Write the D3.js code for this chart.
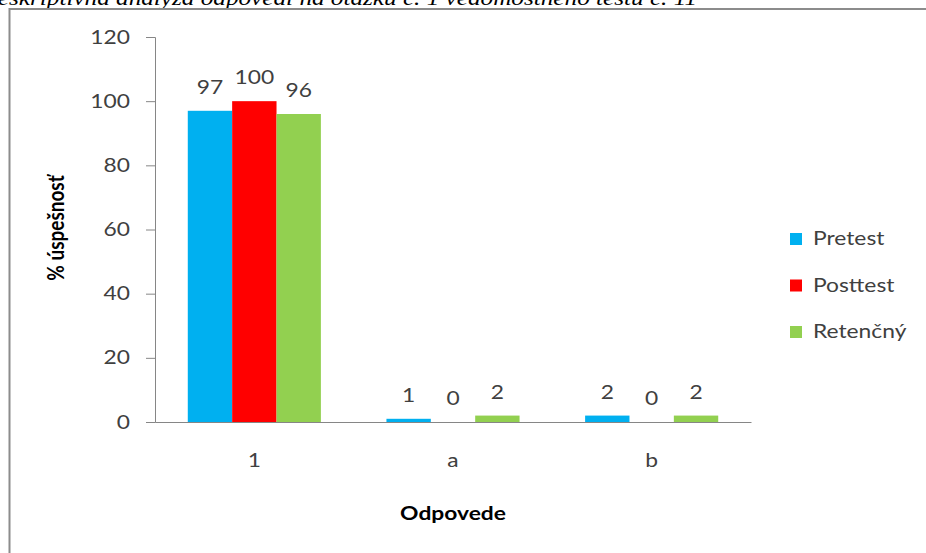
<!DOCTYPE html>
<html><head><meta charset="utf-8">
<script src="https://cdn.jsdelivr.net/npm/d3@7"></script>
<style>
html,body{margin:0;padding:0;background:#fff;}
svg{display:block;}
</style>
</head><body>
<svg id="c" width="926" height="553"></svg>
<script>
const categories = ["1", "a", "b"];
const seriesNames = ["Pretest", "Posttest", "Retenčný"];
const pretest = [97, 1, 2];
const posttest = [100, 0, 0];
const retencny = [96, 2, 2];
const yTicks = [0, 20, 40, 60, 80, 100, 120];
const colors = ["#00B0F0", "#FF0000", "#92D050"];
const caption = "Deskriptívna analýza odpovedí na otázku č. 1 vedomostného testu č. 11";
const yTitle = "% úspešnosť";
const xTitle = "Odpovede";

(function () {
const series = [pretest, posttest, retencny];
const svg = d3.select("#c");
const font = "Lato, 'Open Sans', sans-serif";
const textCol = "#404040";
const axisCol = "#868686";
const sx = 1.2; // horizontal stretch of the reference's text

function addText(x, yy, str, opts) {
  opts = opts || {};
  return svg.append("text")
    .attr("transform", `translate(${x},${yy}) scale(${sx},1)` + (opts.rotate ? ` rotate(${opts.rotate})` : ""))
    .attr("text-anchor", opts.anchor || "start")
    .attr("font-family", opts.family || font)
    .attr("font-size", opts.size || 19)
    .attr("font-weight", opts.weight || "normal")
    .attr("font-style", opts.style || "normal")
    .attr("fill", opts.fill || textCol)
    .text(str);
}

// caption (clipped at the top, as in the reference)
addText(697, 5, caption, {anchor: "end", family: "'Liberation Serif', serif", style: "italic", size: 21, fill: "#000"});

// chart frame
svg.append("rect").attr("x", 9.5).attr("y", 9).attr("width", 940).attr("height", 560)
  .attr("fill", "#fff").attr("stroke", "#8c8c8c").attr("stroke-width", 2);

const pl = 155, pr = 751, pt = 37, pb = 422;
const x0 = d3.scaleBand().domain(categories).range([pl, pr]).paddingInner(0.33).paddingOuter(0.165);
const x1 = d3.scaleBand().domain(d3.range(seriesNames.length)).range([0, x0.bandwidth()]);
const y = d3.scaleLinear().domain([0, 120]).range([pb, pt]);

// y axis
const yAxis = d3.axisLeft(y).tickValues(yTicks).tickSize(9).tickPadding(16);
const gy = svg.append("g").attr("transform", `translate(${pl},0)`).call(yAxis);
gy.select(".domain").attr("stroke", axisCol);
gy.selectAll(".tick line").attr("stroke", axisCol);
gy.selectAll(".tick text").attr("font-family", font).attr("font-size", 19).attr("fill", textCol)
  .attr("x", -25 / sx).attr("transform", `scale(${sx},1)`);

// bars
categories.forEach((c, ci) => {
  series.forEach((s, si) => {
    const v = s[ci];
    const bx = x0(c) + x1(si);
    svg.append("rect").attr("x", bx).attr("y", y(v)).attr("width", x1.bandwidth())
      .attr("height", pb - y(v)).attr("fill", colors[si]);
    addText(bx + x1.bandwidth() / 2, y(v) - 17, v, {anchor: "middle"});
  });
});

// x axis
const xAxis = d3.axisBottom(x0).tickSize(0).tickPadding(32);
const gx = svg.append("g").attr("transform", `translate(0,${pb})`).call(xAxis);
gx.select(".domain").attr("stroke", axisCol);
gx.selectAll(".tick text").attr("font-family", font).attr("font-size", 19).attr("fill", textCol)
  .attr("transform", `scale(${sx},1)`);

// axis titles
addText(64, 228, yTitle, {anchor: "middle", weight: "bold", fill: "#000", rotate: -90});
addText(453, 520, xTitle, {anchor: "middle", weight: "bold", fill: "#000"});

// legend
seriesNames.forEach((n, i) => {
  const by = 245 + i * 46.5;
  svg.append("rect").attr("x", 790).attr("y", by - 12).attr("width", 12).attr("height", 12).attr("fill", colors[i]);
  addText(813, by, n);
});
})();
</script>
</body></html>
